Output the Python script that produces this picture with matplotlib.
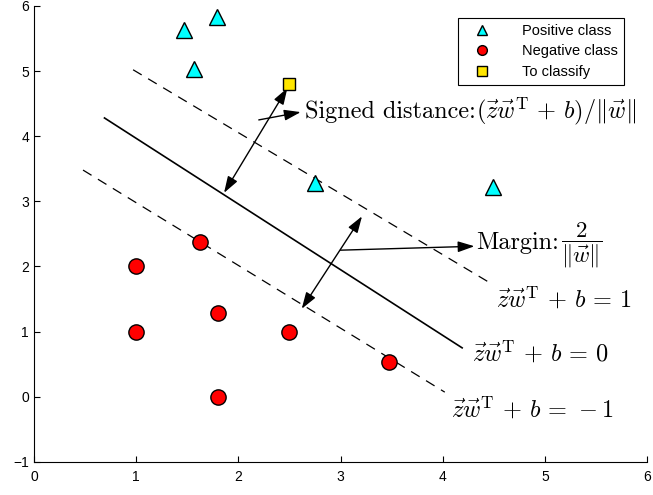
import numpy as np
import matplotlib.pyplot as plt

plt.rcParams['mathtext.fontset'] = 'cm'
plt.rcParams['font.family'] = ['Liberation Sans', 'DejaVu Sans']

# data
pos_x = [1.47, 1.79, 1.57, 2.75, 4.49]
pos_y = [5.63, 5.83, 5.03, 3.28, 3.22]
neg_x = [1.0, 1.0, 1.62, 1.80, 1.80, 2.50, 3.47]
neg_y = [2.0, 1.0, 2.37, 1.29, 0.0, 1.0, 0.53]
new_x = [2.5]
new_y = [4.8]

# separating line and margins (x range, y range)
line_mid_x = [0.69, 4.19]
line_mid_y = [4.28, 0.75]
line_up_x = [0.97, 4.46]
line_up_y = [5.02, 1.75]
line_lo_x = [0.48, 4.02]
line_lo_y = [3.48, 0.07]

fig = plt.figure(figsize=(6.53, 4.95), dpi=100)
ax = fig.add_axes([0.052, 0.067, 0.939, 0.921])

ax.plot(line_mid_x, line_mid_y, color='black', lw=1.2)
ax.plot(line_up_x, line_up_y, color='black', lw=0.9, ls=(0, (8, 6)))
ax.plot(line_lo_x, line_lo_y, color='black', lw=0.9, ls=(0, (8, 6)))

ax.plot(pos_x, pos_y, '^', ms=12, mfc='cyan', mec='black', mew=1.0,
        label='Positive class', zorder=5)
ax.plot(neg_x, neg_y, 'o', ms=11, mfc='red', mec='black', mew=1.0,
        label='Negative class', zorder=5)
ax.plot(new_x, new_y, 's', ms=8, mfc='#ffe600', mec='black', mew=1.0,
        label='To classify', zorder=5)

arr = dict(arrowstyle='<|-|>,head_length=1.0,head_width=0.33', color='black',
           lw=1.0, shrinkA=0, shrinkB=0)
one = dict(arrowstyle='-|>,head_length=1.0,head_width=0.33', color='black',
           lw=1.0, shrinkA=0, shrinkB=0)

fs = 17.5
# signed distance
ax.annotate('', xy=(2.48, 4.74), xytext=(1.86, 3.13), arrowprops=arr)
ax.annotate('', xy=(2.61, 4.37), xytext=(2.2, 4.25), arrowprops=one)
t1 = ax.text(2.65, 4.38, 'Signed distance:', family='cmr10',
             fontsize=fs, va='center', ha='left')
ax.annotate(r'$(\vec{z}\vec{w}^{\mathrm{T}}\,+\,b)/\Vert\vec{w}\Vert$',
            xy=(1, 0.5), xycoords=t1, fontsize=fs, va='center', ha='left')

# margin
ax.annotate('', xy=(3.21, 2.77), xytext=(2.62, 1.35), arrowprops=arr)
ax.annotate('', xy=(4.31, 2.31), xytext=(3.0, 2.25), arrowprops=one)
t2 = ax.text(4.33, 2.36, 'Margin:', family='cmr10',
             fontsize=fs, va='center', ha='left')
ax.annotate(r'$\dfrac{2}{\Vert\vec{w}\Vert}$', xy=(1, 0.4), xycoords=t2,
            xytext=(1, 0), textcoords='offset points',
            fontsize=fs - 1, va='center', ha='left')

ax.text(4.52, 1.5, r'$\vec{z}\vec{w}^{\mathrm{T}}\,+\,b\,=\,1$', fontsize=fs, va='center')
ax.text(4.29, 0.67, r'$\vec{z}\vec{w}^{\mathrm{T}}\,+\,b\,=\,0$', fontsize=fs, va='center')
ax.text(4.08, -0.2, r'$\vec{z}\vec{w}^{\mathrm{T}}\,+\,b\,=\,-1$', fontsize=fs, va='center')

ax.set_xlim(0, 6)
ax.set_ylim(-1, 6)
ax.set_xticks(range(0, 7))
ax.set_yticks(range(-1, 7))
ax.tick_params(direction='in', labelsize=10, length=4)
ax.tick_params(axis='x', pad=6)
ax.spines['top'].set_visible(False)
ax.spines['right'].set_visible(False)

leg = ax.legend(loc='upper left', bbox_to_anchor=(0.68, 0.99), fontsize=10.5,
                fancybox=False, edgecolor='black', framealpha=1,
                handletextpad=1.6, handlelength=2.4, borderpad=0.4,
                labelspacing=0.45)
leg.get_frame().set_linewidth(0.8)
for h in leg.legend_handles:
    h.set_markersize(7)

fig.savefig('out.png', dpi=100)
